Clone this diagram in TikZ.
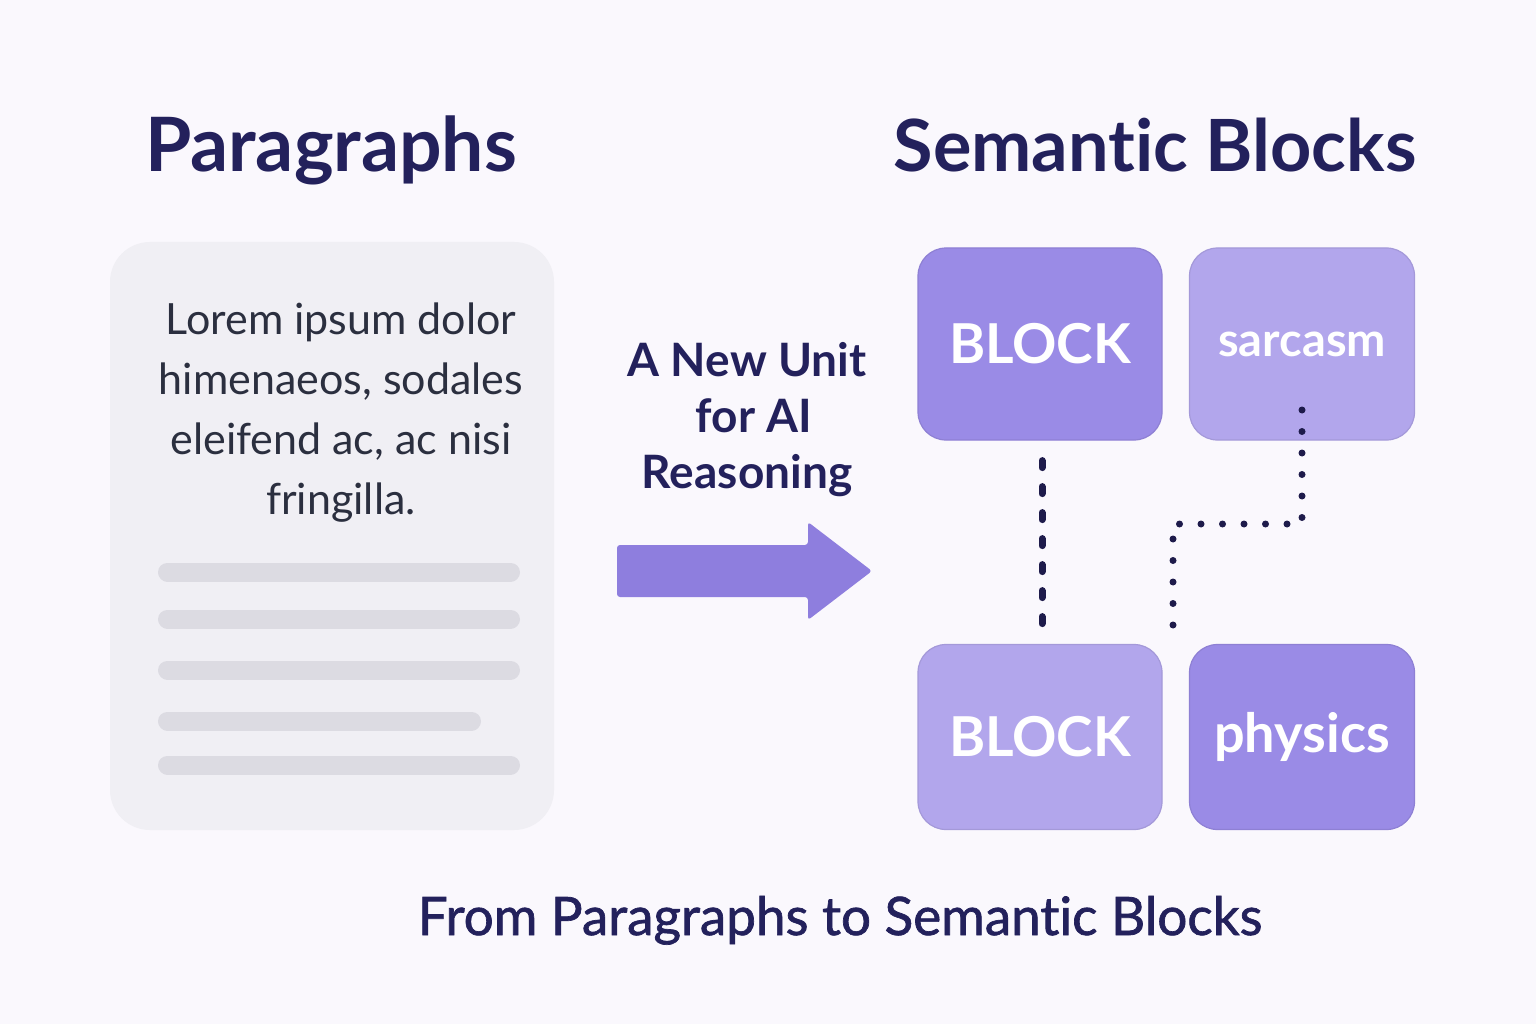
\documentclass[tikz,border=0pt]{standalone}
\usepackage{fontspec}
\setmainfont{Lato}[Ligatures=NoCommon]
\newfontfamily\medfont{Lato}[Ligatures=NoCommon, FakeBold=1.3]
\definecolor{bgcol}{HTML}{FAF8FD}
\definecolor{cardcol}{HTML}{F0EFF4}
\definecolor{barcol}{HTML}{DCDBE2}
\definecolor{navy}{HTML}{23215C}
\definecolor{inkcol}{HTML}{2B2F3F}
\definecolor{arrowcol}{HTML}{8E7EDE}
\definecolor{blkdark}{HTML}{9A8BE6}
\definecolor{blklight}{HTML}{B2A6EC}
\definecolor{linkcol}{HTML}{1E1B4B}
\begin{document}
\begin{tikzpicture}[x=1pt,y=-1pt,
    title/.style={anchor=base, text=navy, font=\fontsize{75}{80}\selectfont\bfseries},
    blockbox/.style={rounded corners=28pt, minimum width=244pt, text=white, line width=1.2pt},
    darkbox/.style={blockbox, fill=blkdark, draw=blkdark!92!black},
    lightbox/.style={blockbox, fill=blklight, draw=blklight!92!black},
    bar/.style={barcol, line width=19pt, line cap=round},
    link/.style={linkcol, line width=7pt, line cap=round}]
    \fill[bgcol] (0,0) rectangle (1536,1024);
    \useasboundingbox (0,0) rectangle (1536,1024);
    \node[title] (paratitle) at (331,172) {Paragraphs};
    \node[title, font=\fontsize{72}{80}\selectfont\bfseries] (semtitle) at (1155,172) {Semantic Blocks};
    \node[fill=cardcol, rounded corners=40pt, minimum width=444pt, minimum height=588pt] (card) at (332,536) {};
    \node[text=inkcol, align=center, font=\fontsize{43}{60}\selectfont] (lorem) at (341,413)
        {Lorem ipsum dolor\\himenaeos, sodales\\eleifend ac, ac nisi\\fringilla.};
    \foreach \y/\xe in {572/520, 619/520, 670/520, 721/481, 765/520}
        \draw[bar] (167.5,\y) -- (\xe-9.5,\y);
    \node[text=navy, align=center, font=\fontsize{46}{56}\selectfont\bfseries] (unit) at (747,420)
        {A New Unit\\\hspace*{14pt}for AI\\Reasoning};
    \fill[arrowcol, rounded corners=3pt] (617,545) -- (808,545) -- (808,522) -- (872,571)
        -- (808,620) -- (808,597) -- (617,597) -- cycle;
    \node[darkbox, minimum height=192pt, font=\fontsize{55}{60}\selectfont\bfseries] (blocka) at (1040,344) {BLOCK};
    \node[lightbox, minimum width=225pt, minimum height=192pt, font=\fontsize{47}{50}\selectfont\bfseries] (sarcasm) at (1302,344) {sarcasm};
    \node[lightbox, minimum height=185pt, font=\fontsize{55}{60}\selectfont\bfseries] (blockb) at (1040,737) {BLOCK};
    \node[darkbox, minimum width=225pt, minimum height=185pt, font=\fontsize{54}{56}\selectfont\bfseries] (physics) at (1302,737) {physics};
    \draw[link, dash pattern=on 7pt off 19pt, shorten <=20pt, shorten >=16pt] ([xshift=2pt]blocka.south) -- ([xshift=2pt]blockb.north);
    \coordinate (dotstart) at (1302,410);
    \coordinate (dotbend) at (1173,524);
    \coordinate (dotend) at (1173,632);
    \draw[link, dash pattern=on 0pt off 21.5pt] (dotstart) |- (dotbend) -- (dotend);
    \node[text=navy, anchor=base, font=\fontsize{53}{56}\selectfont\medfont] (caption) at (840,935)
        {From Paragraphs to Semantic Blocks};
\end{tikzpicture}
\end{document}
